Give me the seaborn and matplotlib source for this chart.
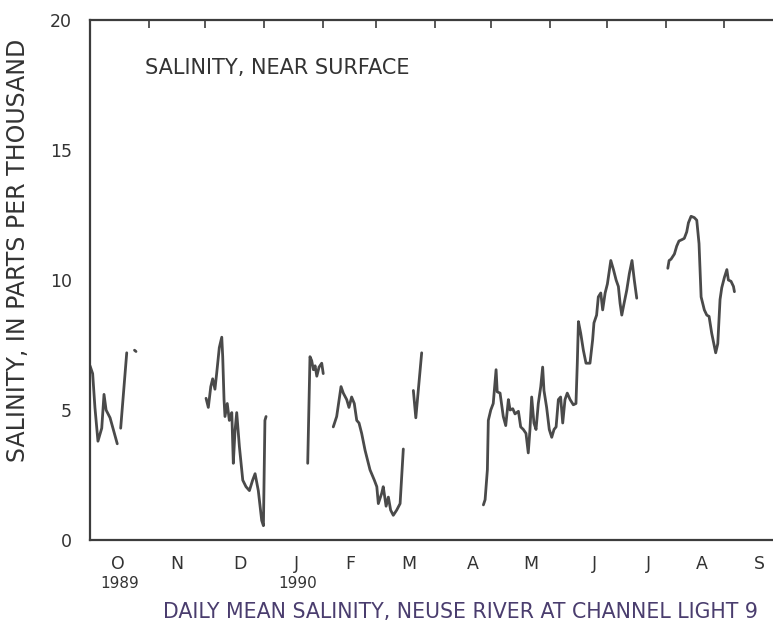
import numpy as np
import pandas as pd
import matplotlib
matplotlib.use("Agg")
import matplotlib.pyplot as plt
import matplotlib.transforms as mtransforms
import seaborn as sns

# ---- data: day of water year (0 = Oct 1, 1989) and daily mean salinity (ppt), by unbroken record piece
seg1_day = [0, 1.4, 2.6, 4.2, 6.2, 7.4, 8.5, 10.6, 14.4]
seg1_val = [6.7, 6.4, 5.1, 3.8, 4.3, 5.6, 5.0, 4.7, 3.7]
seg2_day = [16.2, 19.4]
seg2_val = [4.3, 7.2]
seg3_day = [23.5, 24.3]
seg3_val = [7.3, 7.25]
seg4_day = [61.3, 62.5, 63.8, 64.8, 66.0, 66.9, 68.3, 69.6, 70.1, 70.8, 71.3, 72.5, 73.6,
            74.9, 75.7, 76.6, 77.5, 78.9, 80.7, 82.4, 84.2, 85.9, 87.2, 88.9, 90.7, 91.6,
            92.4, 93.0]
seg4_val = [5.45, 5.1, 5.9, 6.2, 5.8, 6.4, 7.4, 7.8, 7.05, 5.4, 4.75, 5.25, 4.6,
            4.9, 2.95, 4.2, 4.9, 3.6, 2.3, 2.05, 1.9, 2.3, 2.55, 1.9, 0.75, 0.55,
            4.6, 4.75]
seg5_day = [115.0, 116.2, 117.1, 118.0, 118.9, 119.8, 121.0, 122.4, 123.2]
seg5_val = [2.95, 7.05, 6.9, 6.55, 6.7, 6.3, 6.65, 6.8, 6.4]
seg6_day = [128.5, 130.3, 132.6, 133.8, 135.6, 136.8, 138.2, 139.6, 140.9, 142.1, 143.5,
            145.3, 147.9, 150.2, 151.5, 152.3, 154.1, 154.9, 156.4, 157.6, 158.8, 160.2,
            162.0, 163.8, 165.5]
seg6_val = [4.35, 4.75, 5.9, 5.65, 5.4, 5.1, 5.5, 5.25, 4.6, 4.5, 4.1,
            3.45, 2.7, 2.3, 2.05, 1.4, 1.8, 2.05, 1.3, 1.65, 1.15, 0.95,
            1.15, 1.4, 3.5]
seg7_day = [170.8, 172.1, 173.4, 175.2]
seg7_val = [5.75, 4.7, 5.75, 7.2]
seg8_day = [207.8, 208.7, 209.9, 210.4, 211.7, 213.0, 214.5, 215.1, 216.6, 218.3, 219.6,
            221.0, 221.9, 223.3, 224.5, 226.3, 227.5, 228.9, 230.3, 231.5, 232.4, 233.3,
            234.5, 235.6, 236.8, 238.1, 239.1, 239.8, 241.2, 242.6, 243.9, 245.1, 246.2,
            247.4, 248.6, 249.7, 250.9, 252.1, 253.6, 255.3, 256.7, 257.4, 258.0, 259.2,
            260.6, 262.0, 264.1, 265.5, 266.2, 267.6, 268.5, 269.8, 270.8, 272.1, 273.3,
            275.1, 276.5, 277.9, 279.1, 280.0, 280.9, 282.1, 283.5, 284.9, 286.3, 287.5,
            288.8]
seg8_val = [1.35, 1.55, 2.7, 4.6, 5.0, 5.25, 6.55, 5.7, 5.65, 4.75, 4.4,
            5.4, 5.0, 5.05, 4.85, 4.95, 4.35, 4.25, 4.1, 3.35, 4.25, 5.5,
            4.5, 4.25, 5.25, 5.9, 6.65, 5.75, 5.1, 4.25, 3.95, 4.25, 4.35,
            5.4, 5.5, 4.5, 5.4, 5.65, 5.4, 5.2, 5.25, 6.8, 8.4, 7.95,
            7.3, 6.8, 6.8, 7.7, 8.35, 8.65, 9.35, 9.5, 8.85, 9.5, 9.85,
            10.75, 10.4, 10.0, 9.75, 9.1, 8.65, 9.1, 9.6, 10.25, 10.75, 10.0,
            9.3]
seg9_day = [305.2, 305.9, 306.9, 308.7, 309.9, 311.1, 312.6, 313.9, 315.2, 316.1, 317.5,
            319.2, 320.5, 321.7, 322.8, 324.5, 325.8, 327.0, 328.4, 329.8, 330.5, 331.6,
            332.8, 333.7, 335.1, 336.4, 337.2, 338.6, 339.9, 340.4]
seg9_val = [10.45, 10.75, 10.8, 11.0, 11.3, 11.5, 11.55, 11.6, 11.85, 12.2, 12.45,
            12.4, 12.3, 11.4, 9.35, 8.85, 8.65, 8.6, 7.95, 7.45, 7.2, 7.55,
            9.25, 9.7, 10.1, 10.4, 10.0, 9.95, 9.75, 9.55]

month_starts = [0, 31, 61, 92, 123, 151, 182, 212, 243, 273, 304, 335, 365]
month_labels = ["O", "N", "D", "J", "F", "M", "A", "M", "J", "J", "A", "S"]
year_labels = ["1989", "1990"]
year_months = [0, 3]
y_ticks = [0, 5, 10, 15, 20]

segments = [(seg1_day, seg1_val), (seg2_day, seg2_val), (seg3_day, seg3_val),
            (seg4_day, seg4_val), (seg5_day, seg5_val), (seg6_day, seg6_val),
            (seg7_day, seg7_val), (seg8_day, seg8_val), (seg9_day, seg9_val)]
rows = []
for i, (d, v) in enumerate(segments):
    for dd, vv in zip(d, v):
        rows.append({"day": dd, "salinity": vv, "piece": i})
df = pd.DataFrame(rows)

sns.set_theme(style="white")
plt.rcParams["font.family"] = ["DejaVu Sans"]

W, H = 773, 627
fig = plt.figure(figsize=(W / 100, H / 100), dpi=100)
ax = fig.add_axes([90 / W, 1 - 540 / H, 691 / W, 520 / H])

ink = "#3c3c3c"
txt = "#333333"
sns.lineplot(data=df, x="day", y="salinity", units="piece", estimator=None,
             color="#4a4a4a", linewidth=2.0, ax=ax, sort=False)

ax.set_xlim(0, 365)
ax.set_ylim(0, 20)
ax.set_xlabel("")
ax.set_ylabel("")

for s in ax.spines.values():
    s.set_visible(True)
    s.set_color(ink)
    s.set_linewidth(1.6)

ax.set_yticks(y_ticks)
ax.set_yticklabels([str(t) for t in y_ticks])
ax.set_xticks(month_starts)
ax.set_xticklabels([""] * len(month_starts))
# label placement (layout, in axis days)
label_pos = [14.8, 46.0, 79.2, 108.8, 137.3, 168.5, 202.3, 233.0, 266.2, 294.8, 323.4, 353.4]
ax.set_xticks(label_pos, minor=True)
ax.set_xticklabels(month_labels, minor=True)
ax.tick_params(axis="both", which="major", direction="in", length=6, width=1.2,
               color=ink, top=True, right=True, labelsize=12.5, labelcolor=txt)
ax.tick_params(axis="y", which="major", pad=13)
ax.tick_params(axis="x", which="minor", length=0, pad=11, labelsize=12.5,
               labelcolor=txt)

trans = mtransforms.blended_transform_factory(ax.transData, fig.transFigure)
for lab, m in zip(year_labels, year_months):
    ax.text(label_pos[m] + 1, 1 - 584 / H, lab, transform=trans, ha="center", va="center",
            fontsize=11, color=txt)

ax.text(145 / W, 1 - 68 / H, "SALINITY, NEAR SURFACE", transform=fig.transFigure,
        ha="left", va="center", fontsize=15, color=txt)

fig.text(18 / W, 1 - 250 / H, "SALINITY, IN PARTS PER THOUSAND", rotation=90,
         ha="center", va="center", fontsize=17, color=txt)
fig.text(460 / W, 1 - 612 / H, "DAILY MEAN SALINITY, NEUSE RIVER AT CHANNEL LIGHT 9",
         ha="center", va="center", fontsize=14.8, color="#4a3d6e")

fig.savefig("out.png", dpi=100, facecolor="white")
